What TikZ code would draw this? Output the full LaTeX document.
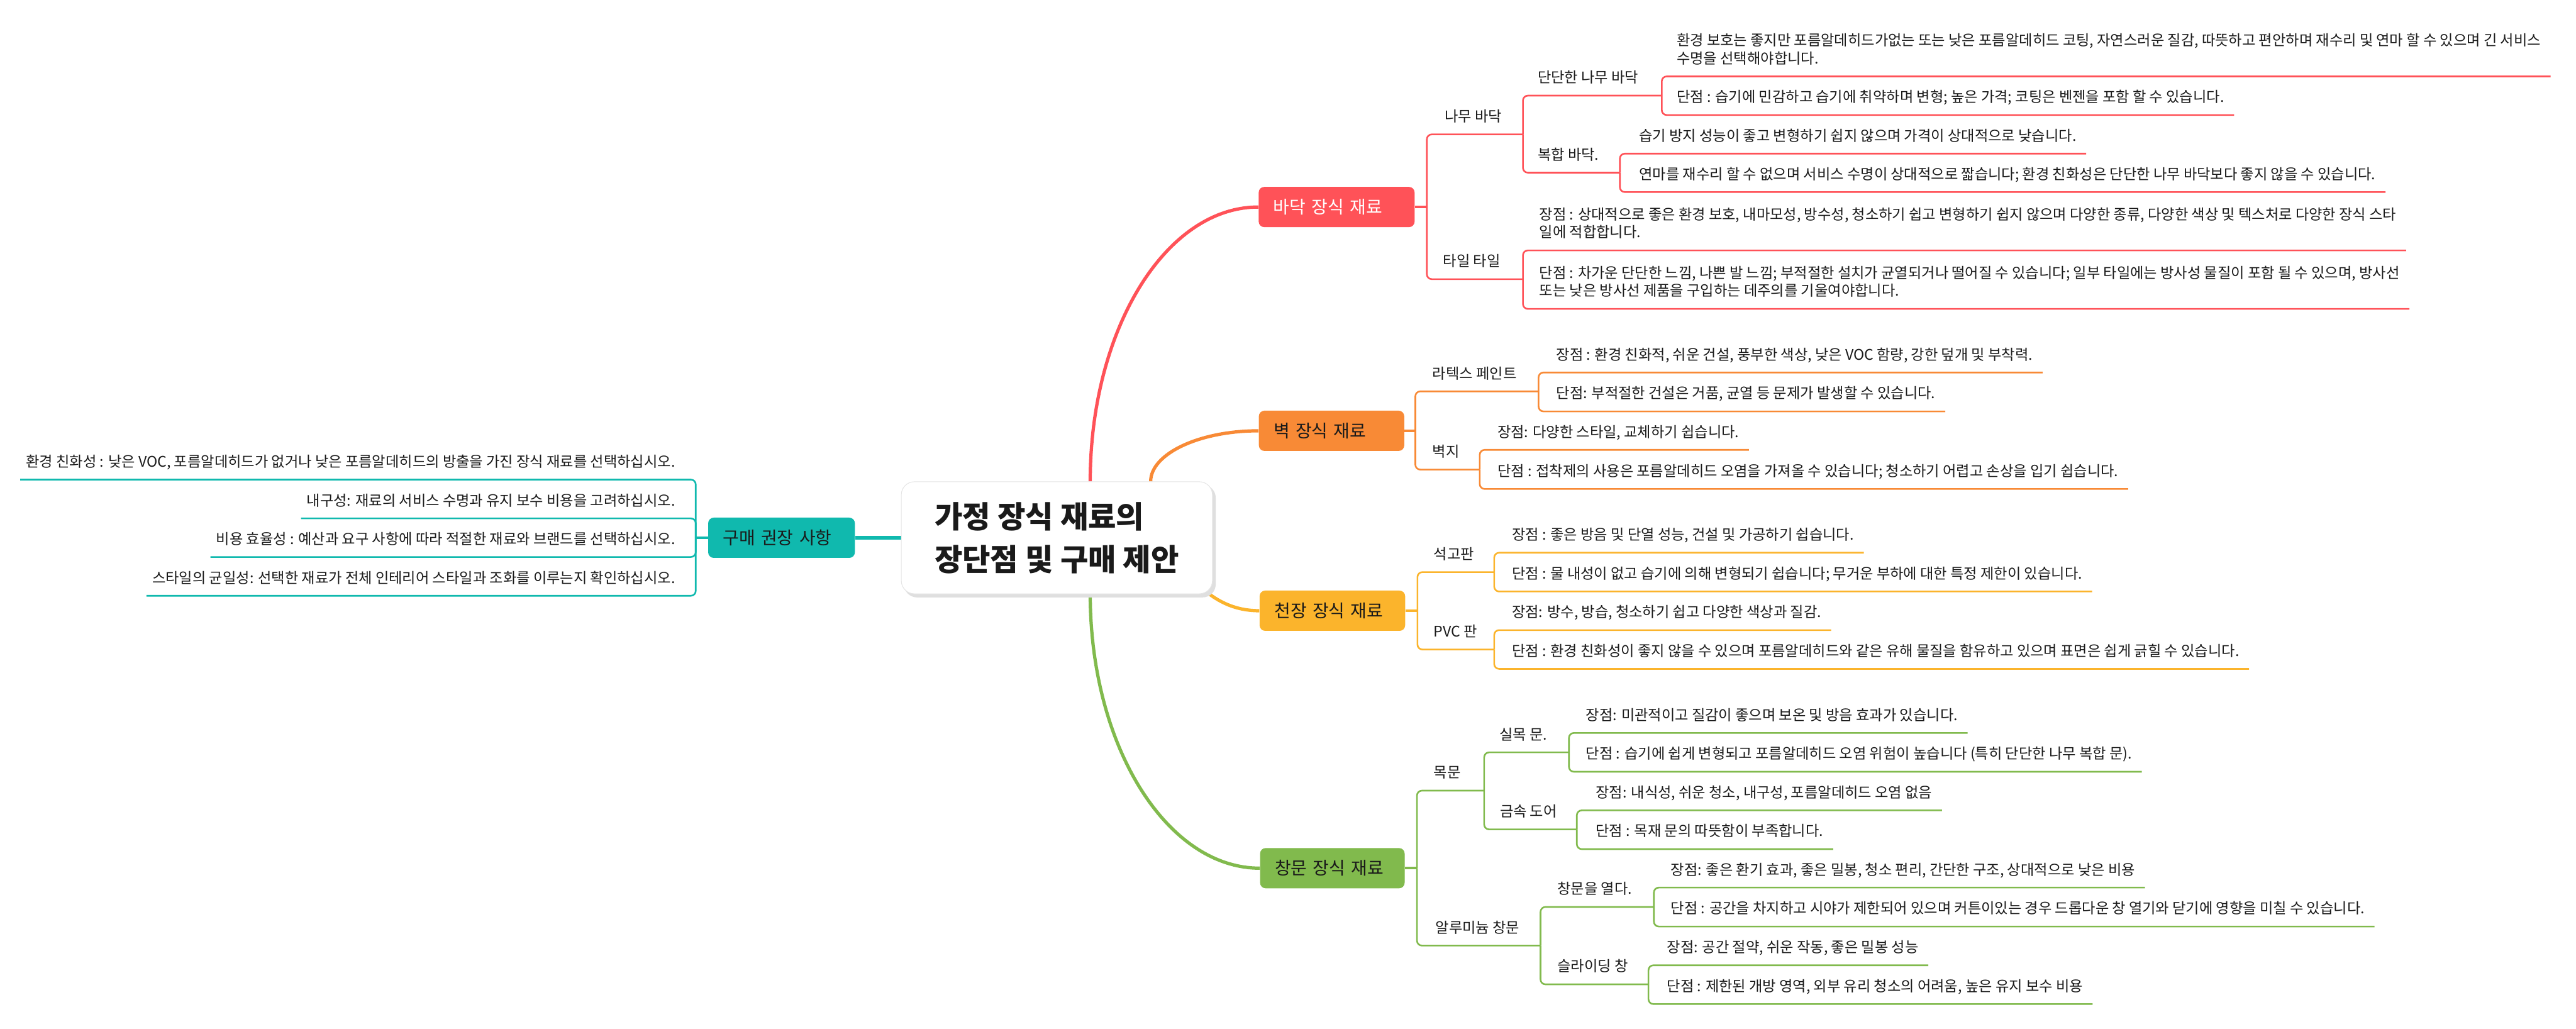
\documentclass[tikz,border=0pt]{standalone}
\usepackage{fontspec}
\setmainfont{Noto Sans CJK KR}
\usepackage{xcolor}
\usetikzlibrary{positioning, backgrounds}

\definecolor{cRed}{HTML}{FF5258}
\definecolor{cOrange}{HTML}{F88A36}
\definecolor{cYellow}{HTML}{FBB42C}
\definecolor{cGreen}{HTML}{81BA4D}
\definecolor{cTeal}{HTML}{10B9AE}
\definecolor{cInk}{HTML}{1A1A1A}

\begin{document}
\begin{tikzpicture}[x=1pt, y=-1pt,
    topic/.style={rounded corners=3.4pt, text width=#1, inner xsep=9pt, minimum height=24.5pt,
                  align=left, text=cInk, font=\fontsize{10.7}{12}\selectfont},
    leaf/.style={anchor=south west, inner sep=0pt, outer xsep=0pt, outer ysep=7.7pt, text depth=0pt,
                 align=left, text=cInk, font=\fontsize{8.9}{11}\selectfont},
    leafl/.style={leaf, anchor=south east, align=right},
    branch/.style={line width=2pt},
    stub/.style={line width=1.5pt},
    twig/.style={line width=1pt, rounded corners=3pt}]
    \useasboundingbox (0,0) rectangle (1568,626);

    % central topic
    \node[draw=gray!20, fill=white, rounded corners=8pt, minimum width=189.4pt, inner xsep=17.6pt,
          minimum height=68.2pt, align=left, text=cInk, font=\fontsize{18.5}{26}\selectfont\bfseries]
        (title) at (643.3,327.3) {가정 장식 재료의\\장단점 및 구매 제안};

    % main topics
    \node[topic=76.9pt, fill=cRed, text=white] (floor) at (813.6,126) {바닥 장식 재료};
    \node[topic=70.5pt, fill=cOrange] (wall) at (810.5,262.2) {벽 장식 재료};
    \node[topic=70.6pt, fill=cYellow] (ceil) at (811,371.7) {천장 장식 재료};
    \node[topic=70pt, fill=cGreen] (win) at (811,528.4) {창문 장식 재료};
    \node[topic=71.3pt, fill=cTeal] (buy) at (475.7,327.3) {구매 권장 사항};

    \begin{scope}[on background layer]
        \draw[branch, cRed] ([xshift=20.3pt]title.north) .. controls +(0,-92) and +(-56.7,0) .. (floor.west);
        \draw[branch, cOrange] ([xshift=57.1pt]title.north) .. controls +(0,-16.7) and +(-36.3,0) .. (wall.west);
        \draw[branch, cYellow] ([xshift=76.7pt,yshift=-17.7pt]title.center) .. controls +(15,20) and +(-16.2,0) .. (ceil.west);
        \draw[branch, cGreen] ([xshift=20.3pt]title.south) .. controls +(0,92.4) and +(-56.6,0) .. (win.west);
        \draw[branch, cTeal] (title.west) -- (buy.east);
        \fill[gray!25, rounded corners=8pt] ([xshift=1.8pt,yshift=-2pt]title.south west) rectangle ([xshift=1.8pt,yshift=-2pt]title.north east);
    \end{scope}

    % floor
    \coordinate (floor-s) at (868.5,126);
    \draw[stub, cRed] (floor.east) -- (floor-s);
    \node[leaf] (wood) at (879.5,81.8) {나무 바닥};
    \coordinate (wood-s) at (927,81.8);
    \draw[twig, cRed] (floor-s) |- (wood-s);
    \node[leaf] (hard) at (936,58.2) {단단한 나무 바닥};
    \coordinate (hard-s) at (1011.5,58.2);
    \draw[twig, cRed] (wood-s) |- (hard-s);
    \node[leaf] (hard-a) at (1020.6,46.5) {환경 보호는 좋지만 포름알데히드가없는 또는 낮은 포름알데히드 코팅, 자연스러운 질감, 따뜻하고 편안하며 재수리 및 연마 할 수 있으며 긴 서비스\\수명을 선택해야합니다.};
    \draw[twig, cRed] (hard-s) |- ([xshift=6pt]hard-a.south east);
    \node[leaf] (hard-b) at (1020.6,70) {단점 : 습기에 민감하고 습기에 취약하며 변형; 높은 가격; 코팅은 벤젠을 포함 할 수 있습니다.};
    \draw[twig, cRed] (hard-s) |- ([xshift=6pt]hard-b.south east);
    \node[leaf] (comp) at (936,105.1) {복합 바닥.};
    \coordinate (comp-s) at (986,105.1);
    \draw[twig, cRed] (wood-s) |- (comp-s);
    \node[leaf] (comp-a) at (997.8,93.5) {습기 방지 성능이 좋고 변형하기 쉽지 않으며 가격이 상대적으로 낮습니다.};
    \draw[twig, cRed] (comp-s) |- ([xshift=6pt]comp-a.south east);
    \node[leaf] (comp-b) at (997.8,116.9) {연마를 재수리 할 수 없으며 서비스 수명이 상대적으로 짧습니다; 환경 친화성은 단단한 나무 바닥보다 좋지 않을 수 있습니다.};
    \draw[twig, cRed] (comp-s) |- ([xshift=6pt]comp-b.south east);
    \node[leaf] (tile) at (878.4,169.9) {타일 타일};
    \coordinate (tile-s) at (927,169.9);
    \draw[twig, cRed] (floor-s) |- (tile-s);
    \node[leaf] (tile-a) at (937,152.4) {장점 : 상대적으로 좋은 환경 보호, 내마모성, 방수성, 청소하기 쉽고 변형하기 쉽지 않으며 다양한 종류, 다양한 색상 및 텍스처로 다양한 장식 스타\\일에 적합합니다.};
    \draw[twig, cRed] (tile-s) |- ([xshift=6pt]tile-a.south east);
    \node[leaf] (tile-b) at (937,188) {단점 : 차가운 단단한 느낌, 나쁜 발 느낌; 부적절한 설치가 균열되거나 떨어질 수 있습니다; 일부 타일에는 방사성 물질이 포함 될 수 있으며, 방사선\\또는 낮은 방사선 제품을 구입하는 데주의를 기울여야합니다.};
    \draw[twig, cRed] (tile-s) |- ([xshift=6pt]tile-b.south east);

    % wall
    \coordinate (wall-s) at (861.5,262.2);
    \draw[stub, cOrange] (wall.east) -- (wall-s);
    \node[leaf] (latex) at (872,238.2) {라텍스 페인트};
    \coordinate (latex-s) at (936.5,238.2);
    \draw[twig, cOrange] (wall-s) |- (latex-s);
    \node[leaf] (latex-a) at (947.3,226.7) {장점 : 환경 친화적, 쉬운 건설, 풍부한 색상, 낮은 VOC 함량, 강한 덮개 및 부착력.};
    \draw[twig, cOrange] (latex-s) |- ([xshift=6pt]latex-a.south east);
    \node[leaf] (latex-b) at (947.3,250.4) {단점: 부적절한 건설은 거품, 균열 등 문제가 발생할 수 있습니다.};
    \draw[twig, cOrange] (latex-s) |- ([xshift=6pt]latex-b.south east);
    \node[leaf] (paper) at (872,285.8) {벽지};
    \coordinate (paper-s) at (900.7,285.8);
    \draw[twig, cOrange] (wall-s) |- (paper-s);
    \node[leaf] (paper-a) at (911.5,273.8) {장점: 다양한 스타일, 교체하기 쉽습니다.};
    \draw[twig, cOrange] (paper-s) |- ([xshift=6pt]paper-a.south east);
    \node[leaf] (paper-b) at (911.5,297.6) {단점 : 접착제의 사용은 포름알데히드 오염을 가져올 수 있습니다; 청소하기 어렵고 손상을 입기 쉽습니다.};
    \draw[twig, cOrange] (paper-s) |- ([xshift=6pt]paper-b.south east);

    % ceiling
    \coordinate (ceil-s) at (862.8,371.7);
    \draw[stub, cYellow] (ceil.east) -- (ceil-s);
    \node[leaf] (gyp) at (872.7,348.2) {석고판};
    \coordinate (gyp-s) at (909.5,348.2);
    \draw[twig, cYellow] (ceil-s) |- (gyp-s);
    \node[leaf] (gyp-a) at (920.3,336.4) {장점 : 좋은 방음 및 단열 성능, 건설 및 가공하기 쉽습니다.};
    \draw[twig, cYellow] (gyp-s) |- ([xshift=6pt]gyp-a.south east);
    \node[leaf] (gyp-b) at (920.3,360) {단점 : 물 내성이 없고 습기에 의해 변형되기 쉽습니다; 무거운 부하에 대한 특정 제한이 있습니다.};
    \draw[twig, cYellow] (gyp-s) |- ([xshift=6pt]gyp-b.south east);
    \node[leaf] (pvc) at (872.7,395.3) {PVC 판};
    \coordinate (pvc-s) at (909.5,395.3);
    \draw[twig, cYellow] (ceil-s) |- (pvc-s);
    \node[leaf] (pvc-a) at (920.3,383.5) {장점: 방수, 방습, 청소하기 쉽고 다양한 색상과 질감.};
    \draw[twig, cYellow] (pvc-s) |- ([xshift=6pt]pvc-a.south east);
    \node[leaf] (pvc-b) at (920.3,407.1) {단점 : 환경 친화성이 좋지 않을 수 있으며 포름알데히드와 같은 유해 물질을 함유하고 있으며 표면은 쉽게 긁힐 수 있습니다.};
    \draw[twig, cYellow] (pvc-s) |- ([xshift=6pt]pvc-b.south east);

    % doors and windows
    \coordinate (win-s) at (862.5,528.4);
    \draw[stub, cGreen] (win.east) -- (win-s);
    \node[leaf] (door) at (872.7,481.2) {목문};
    \coordinate (door-s) at (903.4,481.2);
    \draw[twig, cGreen] (win-s) |- (door-s);
    \node[leaf] (solid) at (912.8,457.9) {실목 문.};
    \coordinate (solid-s) at (955,457.9);
    \draw[twig, cGreen] (door-s) |- (solid-s);
    \node[leaf] (solid-a) at (965.4,446.1) {장점: 미관적이고 질감이 좋으며 보온 및 방음 효과가 있습니다.};
    \draw[twig, cGreen] (solid-s) |- ([xshift=6pt]solid-a.south east);
    \node[leaf] (solid-b) at (965.4,469.7) {단점 : 습기에 쉽게 변형되고 포름알데히드 오염 위험이 높습니다 (특히 단단한 나무 복합 문).};
    \draw[twig, cGreen] (solid-s) |- ([xshift=6pt]solid-b.south east);
    \node[leaf] (metal) at (913,504.8) {금속 도어};
    \coordinate (metal-s) at (959.8,504.8);
    \draw[twig, cGreen] (door-s) |- (metal-s);
    \node[leaf] (metal-a) at (971.4,493.2) {장점: 내식성, 쉬운 청소, 내구성, 포름알데히드 오염 없음};
    \draw[twig, cGreen] (metal-s) |- ([xshift=6pt]metal-a.south east);
    \node[leaf] (metal-b) at (971.4,516.8) {단점 : 목재 문의 따뜻함이 부족합니다.};
    \draw[twig, cGreen] (metal-s) |- ([xshift=6pt]metal-b.south east);
    \node[leaf] (alu) at (873.8,575.5) {알루미늄 창문};
    \coordinate (alu-s) at (937.7,575.5);
    \draw[twig, cGreen] (win-s) |- (alu-s);
    \node[leaf] (open) at (948,552) {창문을 열다.};
    \coordinate (open-s) at (1006.7,552);
    \draw[twig, cGreen] (alu-s) |- (open-s);
    \node[leaf] (open-a) at (1017,540.2) {장점: 좋은 환기 효과, 좋은 밀봉, 청소 편리, 간단한 구조, 상대적으로 낮은 비용};
    \draw[twig, cGreen] (open-s) |- ([xshift=6pt]open-a.south east);
    \node[leaf] (open-b) at (1017,563.9) {단점 : 공간을 차지하고 시야가 제한되어 있으며 커튼이있는 경우 드롭다운 창 열기와 닫기에 영향을 미칠 수 있습니다.};
    \draw[twig, cGreen] (open-s) |- ([xshift=6pt]open-b.south east);
    \node[leaf] (slide) at (948,599.1) {슬라이딩 창};
    \coordinate (slide-s) at (1003.4,599.1);
    \draw[twig, cGreen] (alu-s) |- (slide-s);
    \node[leaf] (slide-a) at (1014.7,587.5) {장점: 공간 절약, 쉬운 작동, 좋은 밀봉 성능};
    \draw[twig, cGreen] (slide-s) |- ([xshift=6pt]slide-a.south east);
    \node[leaf] (slide-b) at (1014.7,611.1) {단점 : 제한된 개방 영역, 외부 유리 청소의 어려움, 높은 유지 보수 비용};
    \draw[twig, cGreen] (slide-s) |- ([xshift=6pt]slide-b.south east);

    % purchase advice
    \coordinate (buy-s) at (423.5,327.3);
    \draw[stub, cTeal] (buy.west) -- (buy-s);
    \node[leafl] (buy-a) at (411,291.9) {환경 친화성 : 낮은 VOC, 포름알데히드가 없거나 낮은 포름알데히드의 방출을 가진 장식 재료를 선택하십시오.};
    \draw[twig, cTeal] (buy-s) |- ([xshift=-3.5pt]buy-a.south west);
    \node[leafl] (buy-b) at (411,315.5) {내구성: 재료의 서비스 수명과 유지 보수 비용을 고려하십시오.};
    \draw[twig, cTeal] (buy-s) |- ([xshift=-3.5pt]buy-b.south west);
    \node[leafl] (buy-c) at (411,339) {비용 효율성 : 예산과 요구 사항에 따라 적절한 재료와 브랜드를 선택하십시오.};
    \draw[twig, cTeal] (buy-s) |- ([xshift=-3.5pt]buy-c.south west);
    \node[leafl] (buy-d) at (411,362.6) {스타일의 균일성: 선택한 재료가 전체 인테리어 스타일과 조화를 이루는지 확인하십시오.};
    \draw[twig, cTeal] (buy-s) |- ([xshift=-3.5pt]buy-d.south west);
\end{tikzpicture}
\end{document}
